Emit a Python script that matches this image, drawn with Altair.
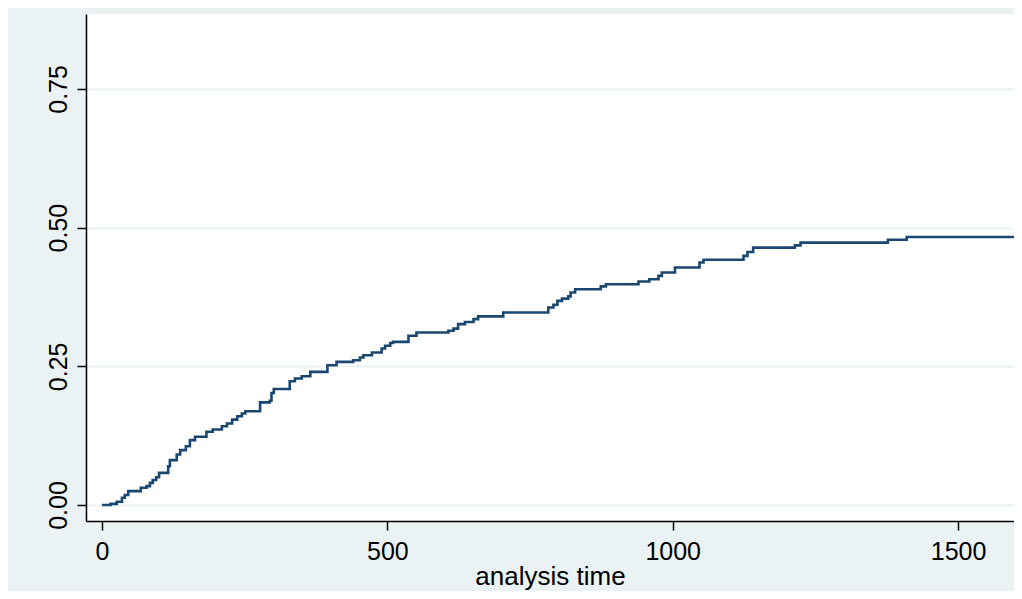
import altair as alt
import pandas as pd

# Kaplan-Meier failure estimate: step points (analysis time, cumulative failure)
times = [0, 15, 26, 35, 40, 46, 68, 78, 84, 89, 95, 100, 116, 119, 131, 137, 147, 154,
         163, 183, 194, 210, 219, 228, 237, 245, 251, 277, 294, 297, 301, 329, 338, 350,
         365, 395, 411, 440, 452, 458, 473, 490, 496, 505, 510, 537, 551, 607, 616, 624,
         636, 651, 659, 703, 782, 791, 798, 806, 817, 821, 829, 874, 883, 940, 959, 975,
         981, 1004, 1047, 1054, 1124, 1131, 1141, 1214, 1224, 1377, 1410, 1609]
failure = [0.000, 0.002, 0.006, 0.013, 0.018, 0.025, 0.031, 0.034, 0.040, 0.045, 0.050,
           0.058, 0.070, 0.081, 0.091, 0.099, 0.106, 0.117, 0.123, 0.132, 0.136, 0.142,
           0.147, 0.154, 0.160, 0.165, 0.169, 0.185, 0.188, 0.202, 0.209, 0.223, 0.228,
           0.232, 0.240, 0.252, 0.258, 0.261, 0.266, 0.270, 0.275, 0.282, 0.287, 0.292,
           0.294, 0.305, 0.311, 0.314, 0.318, 0.326, 0.330, 0.335, 0.340, 0.347, 0.356,
           0.361, 0.368, 0.372, 0.376, 0.383, 0.389, 0.394, 0.398, 0.403, 0.407, 0.413,
           0.419, 0.428, 0.437, 0.442, 0.449, 0.456, 0.464, 0.468, 0.473, 0.478, 0.483,
           0.483]

x_ticks = [0, 500, 1000, 1500]
y_ticks = [0.0, 0.25, 0.5, 0.75]

df = pd.DataFrame({"t": times, "f": failure})

FONT = "Liberation Sans"

chart = (
    alt.Chart(df)
    .mark_line(interpolate="step-after", color="#1A476F", strokeWidth=2.6, clip=True)
    .encode(
        x=alt.X(
            "t:Q",
            scale=alt.Scale(domain=[-28, 1598], nice=False, zero=False),
            axis=alt.Axis(
                title="analysis time",
                values=x_ticks,
                format="d",
                grid=False,
                tickSize=9,
                labelPadding=9,
                titleBaseline="alphabetic",
                titleY=63,
            ),
        ),
        y=alt.Y(
            "f:Q",
            scale=alt.Scale(domain=[-0.0288, 0.885], nice=False, zero=False),
            axis=alt.Axis(
                title=None,
                values=y_ticks,
                format=".2f",
                grid=True,
                gridColor="#EAF2F3",
                gridWidth=2.2,
                tickSize=9,
                labelAngle=270,
                labelAlign="center",
                labelBaseline="bottom",
                labelPadding=6,
            ),
        ),
    )
    .properties(
        width=928,
        height=507,
        background="#EAF2F3",
        padding={"left": 78, "top": 6, "right": 0, "bottom": 70},
        autosize=alt.AutoSizeParams(type="none"),
    )
    .configure_view(fill="white", stroke=None)
    .configure_axis(
        domainColor="black",
        domainWidth=1.5,
        tickColor="black",
        tickWidth=1.5,
        labelFont=FONT,
        labelFontSize=25,
        labelColor="black",
        titleFont=FONT,
        titleFontSize=26,
        titleFontWeight="normal",
        titleColor="black",
    )
)

chart.save("out.html", embed_options={"renderer": "svg", "actions": False})
